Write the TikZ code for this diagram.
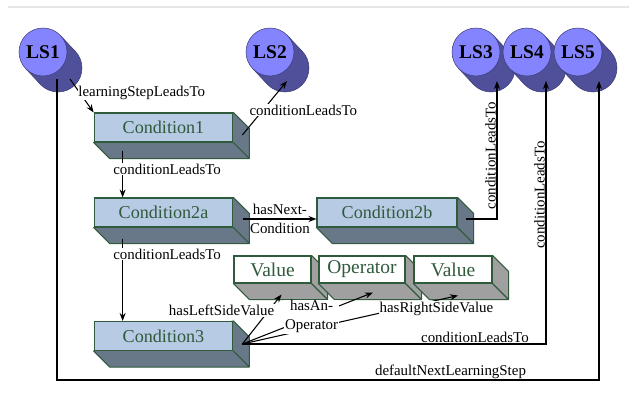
\documentclass[tikz,border=0pt]{standalone}
\usepackage{fontspec}
\setmainfont{Liberation Serif}
\usepackage{xcolor}
\usetikzlibrary{calc,positioning,arrows.meta}
\definecolor{lsfront}{HTML}{8484FF}
\definecolor{lsback}{HTML}{50509A}
\definecolor{lsedge}{HTML}{3C3C78}
\definecolor{condfront}{HTML}{B8CBE4}
\definecolor{condside}{HTML}{687888}
\definecolor{valside}{HTML}{A0A0A0}
\definecolor{boxedge}{HTML}{2F5A3C}
\definecolor{rulegray}{HTML}{E6E6E6}
\pgfdeclarelayer{background}
\pgfsetlayers{background,main}
\tikzset{
  link/.style={draw=black, line width=0.8pt, -{Stealth[length=6pt,width=4.5pt]}},
  lab/.style={fill=white, inner sep=0.6pt, text=black, font=\fontsize{11.2}{14}\selectfont},
  cond/.style={rectangle, draw=boxedge, line width=0.8pt, fill=condfront, text=boxedge, minimum width=104pt, minimum height=21.75pt, inner sep=0pt, font=\fontsize{13.6}{15}\selectfont},
  val/.style={cond, fill=white, minimum height=20.25pt, font=\fontsize{14.6}{16}\selectfont},
  ls/.style={circle, fill=lsfront, draw=lsedge, line width=0.4pt, minimum size=36pt, inner sep=0pt, font=\fontsize{14.6}{16}\selectfont\bfseries},
  lsshade/.style={fill=lsback, draw=lsedge, line width=0.4pt},
  slab/.style={draw=boxedge, line width=0.8pt, line join=round},
}
\begin{document}
\begin{tikzpicture}[x=0.75pt, y=-0.75pt]
  \useasboundingbox (0,0) rectangle (629,396);
  \draw[rulegray, line width=0.8pt] (8,7) -- (629,7);

  \foreach \i/\x in {1/43, 2/270, 3/476, 4/527, 5/578} {
    \filldraw[lsshade] (\x+15,68) circle[radius=18pt];
    \fill[lsback] (\x+17.5,35.6) -- (\x+32.5,51.6) -- (\x-2.5,84.4) -- (\x-17.5,68.4) -- cycle;
    \draw[lsedge, line width=0.4pt] (\x+17.5,35.6) -- (\x+32.5,51.6) (\x-2.5,84.4) -- (\x-17.5,68.4);
    \node[ls] (ls\i) at (\x,52) {LS\i};
  }

  \node[cond] (c1) at (163.5,127.5) {Condition1};
  \node[cond] (c2a) at (163.5,212.5) {Condition2a};
  \node[cond, minimum width=105pt] (c2b) at (387,212.5) {Condition2b};
  \node[cond] (c3) at (163.5,336) {Condition3};
  \node[val, minimum width=57.75pt] (v1) at (272.5,269.5) {Value};
  \node[val, minimum width=64.5pt] (op) at (362,269.5) {Operator};
  \node[val, minimum width=58.5pt] (v2) at (453,269.5) {Value};

  \begin{pgfonlayer}{background}
    \foreach \b/\c in {c1/condside, c2a/condside, c2b/condside, c3/condside, v1/valside, op/valside, v2/valside}
      \filldraw[slab, fill=\c] (\b.north east) -- ++(16,16) -- ($(\b.south east)+(16,16)$) -- ($(\b.south west)+(16,16)$) -- (\b.south west) -- cycle
        (\b.south east) -- ++(16,16);
  \end{pgfonlayer}

  \draw[link] ($(ls1)+(27,27)$) -- (c1.north west) node[lab, pos=.41, anchor=west, xshift=-2pt] {learningStepLeadsTo};
  \draw[link] ($(c1.east)+(9,7.5)$) -- ($(ls2)+(17,29)$) node[lab, pos=.46, anchor=west, xshift=-11pt] {conditionLeadsTo};
  \draw[link] ($(c1.south west)+(29,8)$) -- ($(c2a.north west)+(29,0)$) node[lab, pos=.4, anchor=west, xshift=-8pt] {conditionLeadsTo};
  \draw[link] ($(c2a.east)+(10,6.5)$) -- ($(c2b.west)+(0,6.5)$) node[lab, fill=none, midway, align=center] {hasNext-\\Condition};
  \draw[link] ($(c2a.south west)+(29,11)$) -- ($(c3.north west)+(29,0)$) node[lab, pos=.19, anchor=west, xshift=-8pt] {conditionLeadsTo};
  \draw[link] ($(c2b.east)+(8,6.5)$) -| ($(ls3)+(21,29)$) node[lab, pos=.73, sloped, above] {conditionLeadsTo};
  \draw[link] ($(c3.east)+(9,8)$) -| ($(ls4)+(19,29)$) node[lab, pos=.383, above] {conditionLeadsTo} node[lab, pos=.783, sloped, above] {conditionLeadsTo};
  \draw[link] ($(ls1)+(14,27)$) |- ($(ls5)+(21,328)$) node[lab, pos=.863, above] {defaultNextLearningStep} -- ($(ls5)+(21,29)$);
  \draw[link] ($(c3.east)+(9,8)$) -- ($(v2.south)+(5,12)$) node[lab, pos=.9, below] {hasRightSideValue};
  \draw[link] ($(c3.east)+(9,8)$) -- ($(op.south)+(11,9)$) node[lab, pos=.53, align=center] {hasAn-\\Operator};
  \draw[link] ($(c3.east)+(9,8)$) -- ($(v1.south)+(9,11)$) node[lab, pos=.68, anchor=east, xshift=5pt] {hasLeftSideValue};
\end{tikzpicture}
\end{document}
